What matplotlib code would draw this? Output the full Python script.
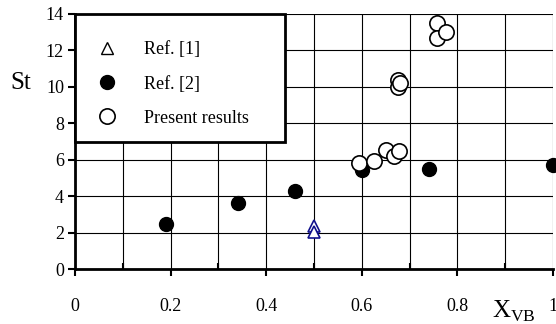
import matplotlib.pyplot as plt
from matplotlib.lines import Line2D
from matplotlib.patches import Rectangle
from matplotlib.ticker import MultipleLocator

plt.rcParams['font.family'] = ['Liberation Serif', 'DejaVu Serif']

# Ref. [1]
ref1_x = [0.50, 0.50]
ref1_y = [2.35, 2.05]
# Ref. [2]
ref2_x = [0.19, 0.34, 0.46, 0.60, 0.74, 1.00]
ref2_y = [2.5, 3.65, 4.3, 5.45, 5.5, 5.7]
# present results
pres_x = [0.595, 0.625, 0.65, 0.667, 0.678, 0.675, 0.675, 0.68, 0.757, 0.757, 0.777]
pres_y = [5.8, 5.95, 6.55, 6.2, 6.5, 10.4, 10.0, 10.2, 13.5, 12.7, 13.0]

fig = plt.figure(figsize=(5.56, 3.24), dpi=100)
ax = fig.add_axes([0.135, 0.169, 0.8596, 0.788])

ax.plot(ref2_x, ref2_y, 'o', color='black', markersize=10, zorder=5, clip_on=False)
ax.plot(pres_x, pres_y, 'o', mfc='white', mec='black', mew=1.2, markersize=11,
        zorder=6, clip_on=False)
ax.plot(ref1_x, ref1_y, '^', mfc='white', mec='#10108c', mew=1.2, markersize=9,
        zorder=5, clip_on=False)

ax.set_xlim(0, 1)
ax.set_ylim(0, 14)
ax.xaxis.set_minor_locator(MultipleLocator(0.1))
ax.yaxis.set_major_locator(MultipleLocator(2))
ax.set_xticks([0, 0.2, 0.4, 0.6, 0.8, 1.0])
ax.set_xticklabels(['0', '0.2', '0.4', '0.6', '0.8', '1'])
ax.grid(True, which='both', color='black', linewidth=0.8)
ax.tick_params(axis='x', which='major', direction='out', length=5, width=1.5, pad=16, labelsize=13)
ax.tick_params(axis='x', which='minor', direction='in', length=4, width=1.5)
ax.tick_params(axis='y', direction='out', length=5, width=1.5, pad=3, labelsize=13)
for s in ['top', 'right']:
    ax.spines[s].set_visible(False)
ax.spines['left'].set_linewidth(2)
ax.spines['bottom'].set_linewidth(2)
ax.set_axisbelow(True)

box = Rectangle((0, 0.5), 0.44, 0.5, transform=ax.transAxes, facecolor='white',
                edgecolor='black', linewidth=2, zorder=7, clip_on=False)
ax.add_patch(box)
handles = [
    Line2D([], [], ls='none', marker='^', mfc='white', mec='black', mew=1.0, markersize=9),
    Line2D([], [], ls='none', marker='o', color='black', markersize=10),
    Line2D([], [], ls='none', marker='o', mfc='white', mec='black', mew=1.2, markersize=11),
]
labels = ['Ref. [1]', 'Ref. [2]', 'Present results']
leg = ax.legend(handles, labels, loc='upper left',
                bbox_to_anchor=(0.0, 0.97), frameon=False, fontsize=13,
                handletextpad=1.4, labelspacing=0.95, borderpad=0.6, handlelength=1.3)
leg.set_zorder(8)

fig.text(0.038, 0.745, 'St', fontsize=18, ha='center', va='center')
fig.text(0.925, 0.038, r'X$_{\mathregular{VB}}$', fontsize=18, ha='center', va='center')

fig.savefig('out.png', dpi=100)
